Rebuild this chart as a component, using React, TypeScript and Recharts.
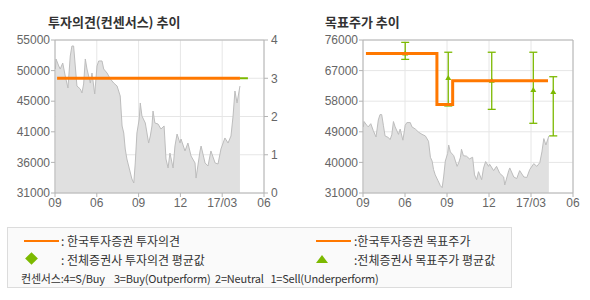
import React from 'react';
import {
  ComposedChart, Area, Line, Scatter, ErrorBar,
  XAxis, YAxis, CartesianGrid, ReferenceLine
} from 'recharts';

// x axis runs on an index 0..100, labelled at even steps
const xTicks = [0, 20, 40, 60, 80, 100];
const xLabels = ['09', '06', '09', '12', '17/03', '06'];

const priceX = [
  0.2, 0.5, 1.8, 2.5, 3.7, 4.9, 6.2, 7.3, 8.1, 8.9, 9.7, 10.5, 12.1, 12.9, 13.7, 14.5, 15.3,
  16.9, 17.7, 19.0, 20.1, 20.9, 22.5, 23.3, 24.9, 26.5, 28.1, 29.7, 31.2, 32.1, 32.9, 33.6,
  34.4, 35.6, 36.8, 37.7, 38.4, 39.2, 40.3, 40.8, 41.6, 43.2, 44.8, 45.6, 46.4, 46.9, 47.8,
  49.3, 50.7, 52.2, 53.1, 54.1, 55.0, 56.5, 57.4, 58.4, 59.8, 60.3, 62.2, 63.6, 65.1, 67.0,
  67.5, 69.4, 69.9, 71.8, 73.2, 74.6, 76.6, 78.0, 79.4, 81.3, 82.8, 84.2, 85.2, 86.1, 87.1, 88.5
];
const priceY = [
  50450, 52020, 50920, 50450, 51390, 49350, 47470, 52490, 54060, 54060, 50920, 47780, 47310,
  46690, 48100, 52020, 50450, 48250, 49820, 46530, 50920, 51710, 51710, 50450, 49820, 48880,
  48250, 47780, 46220, 41510, 40410, 37900, 36330, 34770, 33200, 32570, 35710, 40410, 42610,
  45120, 43080, 41980, 38840, 39940, 41510, 43860, 41980, 41820, 41040, 41510, 36330, 34920,
  37270, 34920, 38370, 40250, 38840, 39470, 37590, 38840, 36800, 35710, 33350, 37590, 38370,
  35710, 35240, 37590, 35710, 35550, 37900, 39630, 38840, 39940, 43080, 47000, 45120, 47780
];

// 투자의견 (consensus 0..4)
const opinionX = [1, 88.5];
const opinionY = [3, 3];
const avgOpinionX = [88.5, 92.3];
const avgOpinionY = [3, 3];

// 목표주가
const targetX = [1.4, 35.2, 42.7, 88.1];
const targetY = [72000, 57000, 64000, 64000];

// 전체증권사 목표주가: mean, high, low
const consX = [20.1, 40.6, 61.3, 81.1, 90.6];
const consMean = [72000, 64800, 64000, 61300, 60700];
const consHigh = [75300, 72400, 72400, 72400, 65200];
const consLow = [70300, 56600, 55600, 51500, 47800];

const leftTicks = [31000, 35800, 40600, 45400, 50200, 55000];
const rightTicks = [0, 1, 2, 3, 4];
const targetTicks = [31000, 40000, 49000, 58000, 67000, 76000];

const ORANGE = '#ff7800';
const GREEN = '#7cb900';
const AXIS = '#b4b4b4';
const GRID = '#e6e6e6';
const KR = '"Noto Sans CJK KR", "Noto Sans", sans-serif';
const tickStyle = { fontSize: 12, fill: '#666', fontFamily: '"Liberation Sans", Arial, sans-serif' };

const priceData = priceX.map((x, i) => ({ x, price: priceY[i] }));
const opinionData = opinionX.map((x, i) => ({ x, v: opinionY[i] }));
const avgOpinionData = avgOpinionX.map((x, i) => ({ x, v: avgOpinionY[i] }));
const targetData = targetX.map((x, i) => ({ x, t: targetY[i] }));
const consData = consX.map((x, i) => ({
  x,
  mean: consMean[i],
  err: [consMean[i] - consLow[i], consHigh[i] - consMean[i]]
}));

const fmtX = (v: number) => xLabels[xTicks.indexOf(v)] ?? '';

const Triangle = (p: any) => (
  <path d={`M${p.cx - 3},${p.cy + 2}L${p.cx + 3},${p.cy + 2}L${p.cx},${p.cy - 3}Z`} fill={GREEN} />
);

export default function App() {
  return (
    <div style={{ position: 'absolute', left: 0, top: 0, width: 590, height: 300, background: '#fff' }}>
      <div style={{ position: 'absolute', left: 48, top: 12, fontFamily: KR, fontWeight: 700, fontSize: 13, color: '#333' }}>
        투자의견(컨센서스) 추이
      </div>
      <div style={{ position: 'absolute', left: 325, top: 12, fontFamily: KR, fontWeight: 700, fontSize: 13, color: '#333' }}>
        목표주가 추이
      </div>

      {/* opinion chart */}
      <div style={{ position: 'absolute', left: 0, top: 0 }}>
        <ComposedChart width={295} height={215} margin={{ top: 40, right: 0, bottom: 2, left: 0 }}>
          <CartesianGrid yAxisId="op" stroke={GRID} ticks={rightTicks} />
          <XAxis
            type="number" dataKey="x" domain={[0, 100]} ticks={xTicks} tickFormatter={fmtX}
            height={20} tick={tickStyle} tickSize={4} tickMargin={1} stroke={AXIS} allowDataOverflow
          />
          <YAxis
            yAxisId="price" domain={[31000, 55000]} ticks={leftTicks} width={55}
            tickFormatter={(v: number) => String(Math.round(v / 1000) * 1000)}
            tick={tickStyle} tickSize={4} tickMargin={1} stroke={AXIS} allowDataOverflow
          />
          <YAxis
            yAxisId="op" orientation="right" domain={[0, 4]} ticks={rightTicks} width={31}
            tick={tickStyle} tickSize={4} tickMargin={3} stroke={AXIS}
          />
          <ReferenceLine yAxisId="op" y={4} stroke={AXIS} />
          <Area
            yAxisId="price" data={priceData} dataKey="price" type="linear"
            stroke="#bdbdbd" strokeWidth={1} fill="#e0e0e0" fillOpacity={1} isAnimationActive={false}
          />
          <Line
            yAxisId="op" data={avgOpinionData} dataKey="v" stroke={GREEN} strokeWidth={2}
            dot={false} isAnimationActive={false}
          />
          <Line
            yAxisId="op" data={opinionData} dataKey="v" stroke={ORANGE} strokeWidth={3}
            dot={false} isAnimationActive={false}
          />
        </ComposedChart>
      </div>

      {/* target price chart */}
      <div style={{ position: 'absolute', left: 295, top: 0 }}>
        <ComposedChart width={295} height={215} margin={{ top: 40, right: 17, bottom: 2, left: 0 }}>
          <CartesianGrid yAxisId="tp" stroke={GRID} ticks={targetTicks} />
          <XAxis
            type="number" dataKey="x" domain={[0, 100]} ticks={xTicks} tickFormatter={fmtX}
            height={20} tick={tickStyle} tickSize={4} tickMargin={1} stroke={AXIS} allowDataOverflow
          />
          <YAxis
            yAxisId="tp" domain={[31000, 76000]} ticks={targetTicks} width={68}
            tick={tickStyle} tickSize={4} tickMargin={1} stroke={AXIS} allowDataOverflow
          />
          <ReferenceLine yAxisId="tp" y={76000} stroke={AXIS} />
          <ReferenceLine yAxisId="tp" x={100} stroke={AXIS} />
          <Area
            yAxisId="tp" data={priceData} dataKey="price" type="linear"
            stroke="#bdbdbd" strokeWidth={1} fill="#e0e0e0" fillOpacity={1} isAnimationActive={false}
          />
          <Scatter yAxisId="tp" data={consData} dataKey="mean" shape={Triangle} isAnimationActive={false}>
            <ErrorBar dataKey="err" direction="y" width={4} stroke={GREEN} strokeWidth={1.3} isAnimationActive={false} />
          </Scatter>
        </ComposedChart>
      </div>

      {/* target line on its own layer so it sits above the error bars */}
      <div style={{ position: 'absolute', left: 295, top: 0 }}>
        <ComposedChart width={295} height={215} margin={{ top: 40, right: 17, bottom: 22, left: 68 }}>
          <XAxis type="number" dataKey="x" domain={[0, 100]} hide />
          <YAxis yAxisId="tp" domain={[31000, 76000]} hide />
          <Line
            yAxisId="tp" data={targetData} dataKey="t" type="stepAfter" stroke={ORANGE} strokeWidth={3}
            dot={false} isAnimationActive={false}
          />
        </ComposedChart>
      </div>

      {/* legend box */}
      <div style={{
        position: 'absolute', left: 7, top: 227, width: 505, height: 61, boxSizing: 'border-box',
        border: '1px solid #dcdcdc', background: '#fafafa', fontFamily: KR, fontSize: 12, color: '#333'
      }}>
        <div style={{ position: 'absolute', left: 16, top: 12, width: 35, height: 2, background: ORANGE }} />
        <div style={{ position: 'absolute', left: 53, top: 4, whiteSpace: 'nowrap' }}>: 한국투자증권 투자의견</div>
        <div style={{ position: 'absolute', left: 19, top: 26, width: 9, height: 9, background: GREEN, transform: 'rotate(45deg)' }} />
        <div style={{ position: 'absolute', left: 53, top: 23, whiteSpace: 'nowrap' }}>: 전체증권사 투자의견 평균값</div>
        <div style={{ position: 'absolute', left: 308, top: 12, width: 35, height: 2, background: ORANGE }} />
        <div style={{ position: 'absolute', left: 346, top: 4, whiteSpace: 'nowrap' }}>:한국투자증권 목표주가</div>
        <div style={{
          position: 'absolute', left: 308, top: 27, width: 0, height: 0,
          borderLeft: '6px solid transparent', borderRight: '6px solid transparent', borderBottom: '8px solid ' + GREEN
        }} />
        <div style={{ position: 'absolute', left: 346, top: 23, whiteSpace: 'nowrap' }}>:전체증권사 목표주가 평균값</div>
        <div style={{ position: 'absolute', left: 13, top: 42, whiteSpace: 'pre', fontSize: 11, letterSpacing: -0.2 }}>
          {'컨센서스:4=S/Buy    3=Buy(Outperform)  2=Neutral   1=Sell(Underperform)'}
        </div>
      </div>
    </div>
  );
}
